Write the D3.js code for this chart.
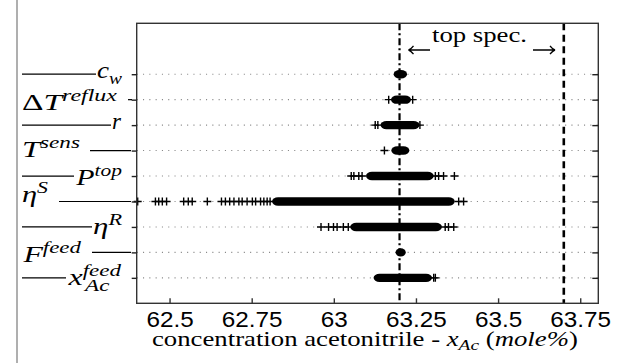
<!DOCTYPE html>
<html><head><meta charset="utf-8">
<script src="https://cdn.jsdelivr.net/npm/d3@7"></script>
<style>body{margin:0;background:#fff}</style>
</head><body>
<svg id="chart" width="625" height="363"></svg>
<script>
// ---------- data ----------
const factors = ["c_w","ΔT^reflux","r","T^sens","P^top","η^S","η^R","F^feed","x^feed_Ac"];
// label pieces: [text, role] role: b=italic base, u=upright base, p=superscript, s=subscript
const labelParts = [
  [["c","b"],["w","s"]],
  [["Δ","u"],["T","b"],["reflux","p"]],
  [["r","b"]],
  [["T","b"],["sens","p"]],
  [["P","b"],["top","p"]],
  [["η","b"],["S","p"]],
  [["η","b"],["R","p"]],
  [["F","b"],["feed","p"]],
  [["x","b"],["feed","p"],["Ac","s"]]
];
// dense part of every strip (mole%)
const coreLow  = [63.182, 63.174, 63.142, 63.175, 63.098, 62.812, 63.050, 63.188, 63.121];
const coreHigh = [63.223, 63.235, 63.261, 63.230, 63.304, 63.368, 63.329, 63.219, 63.299];
// isolated samples of every strip (mole%)
const outliers = [
  [],
  [63.167, 63.240],
  [63.126, 63.134, 63.262],
  [63.154],
  [63.053, 63.061, 63.076, 63.086, 63.309, 63.319, 63.334, 63.367],
  [62.403, 62.457, 62.467, 62.478, 62.491, 62.543, 62.557, 62.569, 62.615,
   62.658, 62.670, 62.683, 62.696, 62.711, 62.721, 62.736, 62.752, 62.762,
   62.777, 62.787, 62.797, 62.806, 63.380, 63.395],
  [62.961, 62.984, 62.999, 63.010, 63.029, 63.044, 63.339, 63.349, 63.365],
  [],
  [63.304, 63.309]
];
const xTicks = [62.5, 62.75, 63, 63.25, 63.5, 63.75];
const xTickLabels = ["62.5", "62.75", "63", "63.25", "63.5", "63.75"];
const nominalValue = 63.2;
const topSpecValue = 63.7;
const xDomain = [62.4, 63.805];
const yDomain = [-2, 9];
const annotationText = "top spec.";
const xAxisTitle = [["concentration acetonitrile - ","u"],["x","b"],["Ac","s"],[" (","u"],["mole%","b"],[")","u"]];

// ---------- layout ----------
const SERIF = "Liberation Serif", SANS = "Liberation Sans";
const L = 136.7, R = 598.3, T = 23.3, B = 303.3;
const svg = d3.select("#chart");
const x = d3.scaleLinear().domain(xDomain).range([L, R]);
const y = d3.scaleLinear().domain(yDomain).range([T, B]);
const rows = d3.range(factors.length);

const labelLayout = [
  {x0: 97,  w: 25, dy: 4,  lead: [22, 96]},
  {x0: 22,  w: 96, dy: 10, lead: [128, 132]},
  {x0: 112, w: 10, dy: 4,  lead: [22, 111]},
  {x0: 22,  w: 58, dy: 6,  lead: [90, 131]},
  {x0: 75,  w: 47, dy: 9,  lead: [22, 74]},
  {x0: 22,  w: 26, dy: 1,  lead: [59, 131]},
  {x0: 93,  w: 29, dy: 7,  lead: [22, 92]},
  {x0: 22,  w: 60, dy: 10, lead: [92, 131]},
  {x0: 67,  w: 55, dy: 7,  lead: [22, 66]}
];

// left page rule
svg.append("line").attr("x1",17).attr("x2",17).attr("y1",0).attr("y2",363)
  .attr("stroke","#7a7a7a").attr("stroke-width",1.2);

// grid lines
svg.append("g").selectAll("line").data(rows).join("line")
  .attr("x1", L).attr("x2", R).attr("y1", d=>y(d)).attr("y2", d=>y(d))
  .attr("stroke","#8a8a8a").attr("stroke-width",1.1).attr("stroke-dasharray","1.1,5.2");

// cores
svg.append("g").selectAll("rect").data(rows).join("rect")
  .attr("x", d=>x(coreLow[d])).attr("width", d=>x(coreHigh[d])-x(coreLow[d]))
  .attr("y", d=>y(d)-4.2).attr("height", 8.4)
  .attr("rx", d=>Math.min(6,(x(coreHigh[d])-x(coreLow[d]))/2)).attr("ry", 4.2)
  .attr("fill","#000");

// plus markers
const plusPts = [];
rows.forEach(r => outliers[r].forEach(v => plusPts.push({r, v})));
const ps = 4;
svg.append("g").selectAll("path").data(plusPts).join("path")
  .attr("d", d => {const cx=x(d.v), cy=y(d.r); return `M${cx-ps},${cy}H${cx+ps}M${cx},${cy-ps}V${cy+ps}`;})
  .attr("stroke","#000").attr("stroke-width",1.4).attr("fill","none");

// reference lines
svg.append("line").attr("x1",x(nominalValue)).attr("x2",x(nominalValue)).attr("y1",T).attr("y2",B)
  .attr("stroke","#000").attr("stroke-width",2.2).attr("stroke-dasharray","7,3,2,3");
svg.append("line").attr("x1",x(topSpecValue)).attr("x2",x(topSpecValue)).attr("y1",T).attr("y2",B)
  .attr("stroke","#000").attr("stroke-width",2.6).attr("stroke-dasharray","7,4.5");

// frame
svg.append("rect").attr("x",L).attr("y",T).attr("width",R-L).attr("height",B-T)
  .attr("fill","none").attr("stroke","#333").attr("stroke-width",1.4);

// x axis
const xAxis = d3.axisBottom(x).tickValues(xTicks).tickFormat((d,i)=>xTickLabels[i])
  .tickSizeInner(-5).tickSizeOuter(0);
const gx = svg.append("g").attr("transform",`translate(0,${B})`).call(xAxis)
  .attr("font-family",SANS).attr("font-size",21.5);
gx.select(".domain").remove();
gx.selectAll(".tick line").attr("stroke","#333").attr("stroke-width",1.4);
gx.selectAll(".tick text").attr("y",23.5).attr("dy",0).attr("font-family",SANS)
  .attr("font-size",21.5).attr("fill","#000").attr("transform","scale(1.13,1)");

// y ticks left (outward) and right (inward)
const yAxisL = d3.axisLeft(y).tickValues(rows).tickFormat("").tickSizeInner(5).tickSizeOuter(0);
const gyl = svg.append("g").attr("transform",`translate(${L},0)`).call(yAxisL);
gyl.select(".domain").remove();
gyl.selectAll(".tick line").attr("stroke","#222").attr("stroke-width",1.4);
const yAxisR = d3.axisRight(y).tickValues(rows).tickFormat("").tickSizeInner(-6).tickSizeOuter(0);
const gyr = svg.append("g").attr("transform",`translate(${R},0)`).call(yAxisR);
gyr.select(".domain").remove();
gyr.selectAll(".tick line").attr("stroke","#222").attr("stroke-width",1.4);

function fitTo(sel, x0, w){
  const bb = sel.node().getBBox();
  const s = w / bb.width;
  sel.attr("transform", `translate(${x0},0) scale(${s},1) translate(${-bb.x},0)`);
}

// left labels
const BASE = 23, SCR = 16.5;
rows.forEach(r => {
  const lay = labelLayout[r];
  const g = svg.append("g");
  g.append("line").attr("x1",lay.lead[0]).attr("x2",lay.lead[1]).attr("y1",y(r)).attr("y2",y(r))
    .attr("stroke","#000").attr("stroke-width",1.2);
  const by = y(r) + lay.dy;
  const t = g.append("text").attr("font-family",SERIF).attr("fill","#000");
  const parts = labelParts[r];
  parts.forEach(([txt, role], i) => {
    const ts = t.append("tspan").text(txt).attr("font-family",SERIF);
    if (role === "b" || role === "u") {
      ts.attr("font-size", BASE).attr("font-style", role==="b"?"italic":"normal").attr("y", by);
    } else if (role === "p") {
      ts.attr("font-size", SCR).attr("font-style","italic").attr("y", by - 9);
    } else {
      ts.attr("font-size", SCR).attr("font-style","italic").attr("y", by + 6);
      if (i > 0 && parts[i-1][1] === "p") {
        const base = t.selectAll("tspan").nodes()[0];
        const bb = base.getBBox();
        ts.attr("x", bb.x + bb.width + 1);
      }
    }
  });
  fitTo(t, lay.x0, lay.w);
});

// annotation
const ann = svg.append("text").attr("font-family",SERIF).attr("x",0).attr("y",42.5)
  .attr("font-size",20).attr("fill","#000").text(annotationText);
fitTo(ann, 432, 95);
function arrow(x1, x2, yy){
  const dir = Math.sign(x2-x1);
  svg.append("path").attr("d",`M${x1},${yy}H${x2}M${x2-dir*5},${yy-4.2}Q${x2-dir*2},${yy-0.5} ${x2},${yy}Q${x2-dir*2},${yy+0.5} ${x2-dir*5},${yy+4.2}`)
    .attr("stroke","#000").attr("stroke-width",1.3).attr("fill","none");
}
arrow(430, 408.5, 50);
arrow(533, 555, 50);

// x axis title
const xt = svg.append("text").attr("font-family",SERIF).attr("fill","#000");
xAxisTitle.forEach(([txt, role]) => {
  xt.append("tspan").text(txt).attr("font-family",SERIF).attr("font-size", role==="s"?14.5:20)
    .attr("font-style", role==="u"?"normal":"italic")
    .attr("y", role==="s" ? 350 : 346);
});
fitTo(xt, 152, 426);
</script>
</body></html>
